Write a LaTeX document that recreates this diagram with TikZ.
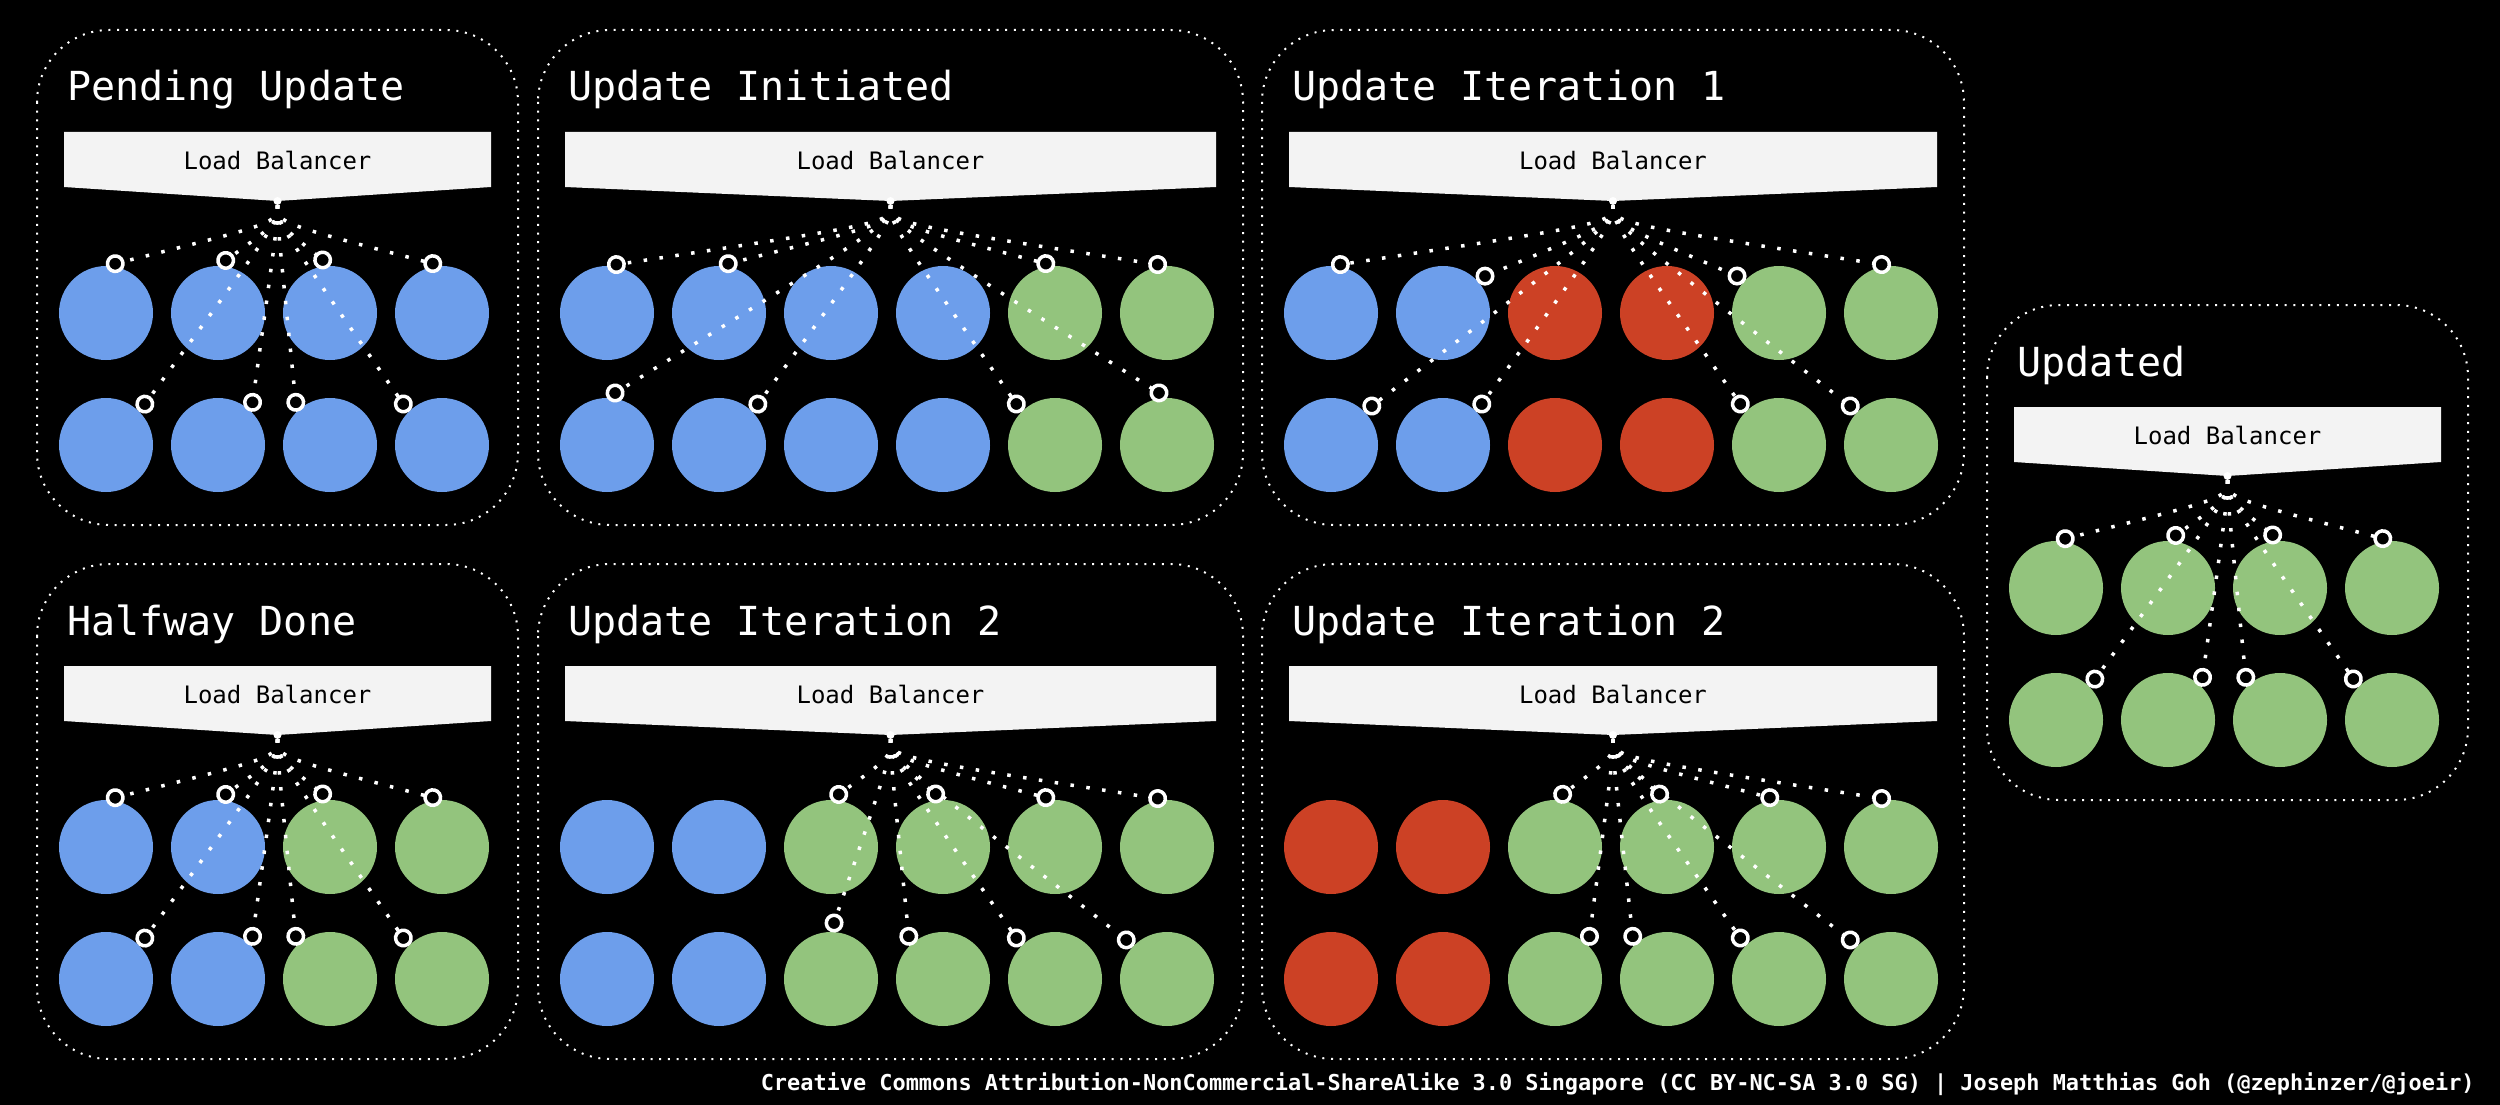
\documentclass[tikz,border=0pt]{standalone}
\usepackage{fontspec}
\setmonofont{DejaVu Sans Mono}
\usepackage{tikz}
\usetikzlibrary{arrows.meta,calc}
\definecolor{lbgray}{HTML}{F3F3F3}
\definecolor{srvblue}{HTML}{6D9EEB}
\definecolor{srvgreen}{HTML}{93C47D}
\definecolor{srvred}{HTML}{CC4125}
\tikzset{
  panel/.style={draw=white, line width=2pt, dash pattern=on 2pt off 6.7pt, rounded corners=72pt},
  ptitle/.style={text=white, anchor=base west, inner sep=0pt, font=\ttfamily\fontsize{40}{48}\selectfont},
  lblabel/.style={text=black, anchor=base, inner sep=0pt, font=\ttfamily\fontsize{24}{28}\selectfont},
  hub/.style={circle, fill=white, minimum size=8pt, inner sep=0pt},
  srv/.style={circle, fill=#1, minimum size=94pt, inner sep=0pt, outer sep=0pt},
  wire/.style={draw=white, line width=3.5pt, dash pattern=on 3.5pt off 12.5pt,
               -{Circle[length=19pt, line width=3.5pt, fill=black]}},
}
% #1 name, #2 left, #3 top, #4 width, #5 title, #6 upper row, #7 lower row, #8 wired servers
\newcommand{\lbpanel}[8]{%
  \begin{scope}[shift={(#2,#3)}]
    \draw[panel] (0,0) rectangle (#4,495);
    \node[ptitle] (#1t) at (30,71) {#5};
    \fill[lbgray] (27,102) -- ({#4-27},102) -- ({#4-27},157) -- ({#4/2},171) -- (27,157) -- cycle;
    \node[lblabel] (#1lb) at ({#4/2},139) {Load Balancer};
    \foreach \c [count=\i] in {#6} \node[srv=\c] (#1u\i) at ({69+112*(\i-1)},283) {};
    \foreach \c [count=\i] in {#7} \node[srv=\c] (#1d\i) at ({69+112*(\i-1)},415) {};
    \node[hub] (#1hub) at ({#4/2},171) {};
    \foreach \tg in {#8} \draw[wire] (#1hub) .. controls +(0,22) .. (#1\tg);
  \end{scope}}

\begin{document}
\begin{tikzpicture}[x=1pt, y=-1pt]
  \fill[black] (0,0) rectangle (2500,1105);
  \useasboundingbox (0,0) rectangle (2500,1105);

  \lbpanel{a}{37}{30}{481}{Pending Update}
    {srvblue,srvblue,srvblue,srvblue}{srvblue,srvblue,srvblue,srvblue}
    {u1.north,u2.north,u3.north,u4.north,d1.north east,d2.north east,d3.north west,d4.north west}
  \lbpanel{b}{538}{30}{705}{Update Initiated}
    {srvblue,srvblue,srvblue,srvblue,srvgreen,srvgreen}{srvblue,srvblue,srvblue,srvblue,srvgreen,srvgreen}
    {u1.north,u2.north,u5.north,u6.north,d1.north,d2.north east,d5.north west,d6.north}
  \lbpanel{c}{1262}{30}{702}{Update Iteration 1}
    {srvblue,srvblue,srvred,srvred,srvgreen,srvgreen}{srvblue,srvblue,srvred,srvred,srvgreen,srvgreen}
    {u1.north,u2.north east,u5.north west,u6.north,d1.north east,d2.north east,d5.north west,d6.north west}
  \lbpanel{d}{1987}{305}{481}{Updated}
    {srvgreen,srvgreen,srvgreen,srvgreen}{srvgreen,srvgreen,srvgreen,srvgreen}
    {u1.north,u2.north,u3.north,u4.north,d1.north east,d2.north east,d3.north west,d4.north west}
  \lbpanel{e}{37}{564}{481}{Halfway Done}
    {srvblue,srvblue,srvgreen,srvgreen}{srvblue,srvblue,srvgreen,srvgreen}
    {u1.north,u2.north,u3.north,u4.north,d1.north east,d2.north east,d3.north west,d4.north west}
  \lbpanel{f}{538}{564}{705}{Update Iteration 2}
    {srvblue,srvblue,srvgreen,srvgreen,srvgreen,srvgreen}{srvblue,srvblue,srvgreen,srvgreen,srvgreen,srvgreen}
    {u3.north,u4.north,u5.north,u6.north,d3.north,d4.north west,d5.north west,d6.north west}
  \lbpanel{g}{1262}{564}{702}{Update Iteration 2}
    {srvred,srvred,srvgreen,srvgreen,srvgreen,srvgreen}{srvred,srvred,srvgreen,srvgreen,srvgreen,srvgreen}
    {u3.north,u4.north,u5.north,u6.north,d3.north east,d4.north west,d5.north west,d6.north west}

  \node[text=white, anchor=base east, inner sep=0pt, font=\ttfamily\bfseries\fontsize{21.9}{24}\selectfont]
    (credit) at (2475,1090) {Creative Commons Attribution-NonCommercial-ShareAlike 3.0 Singapore (CC BY-NC-SA 3.0 SG) | Joseph Matthias Goh (@zephinzer/@joeir)};
\end{tikzpicture}
\end{document}
